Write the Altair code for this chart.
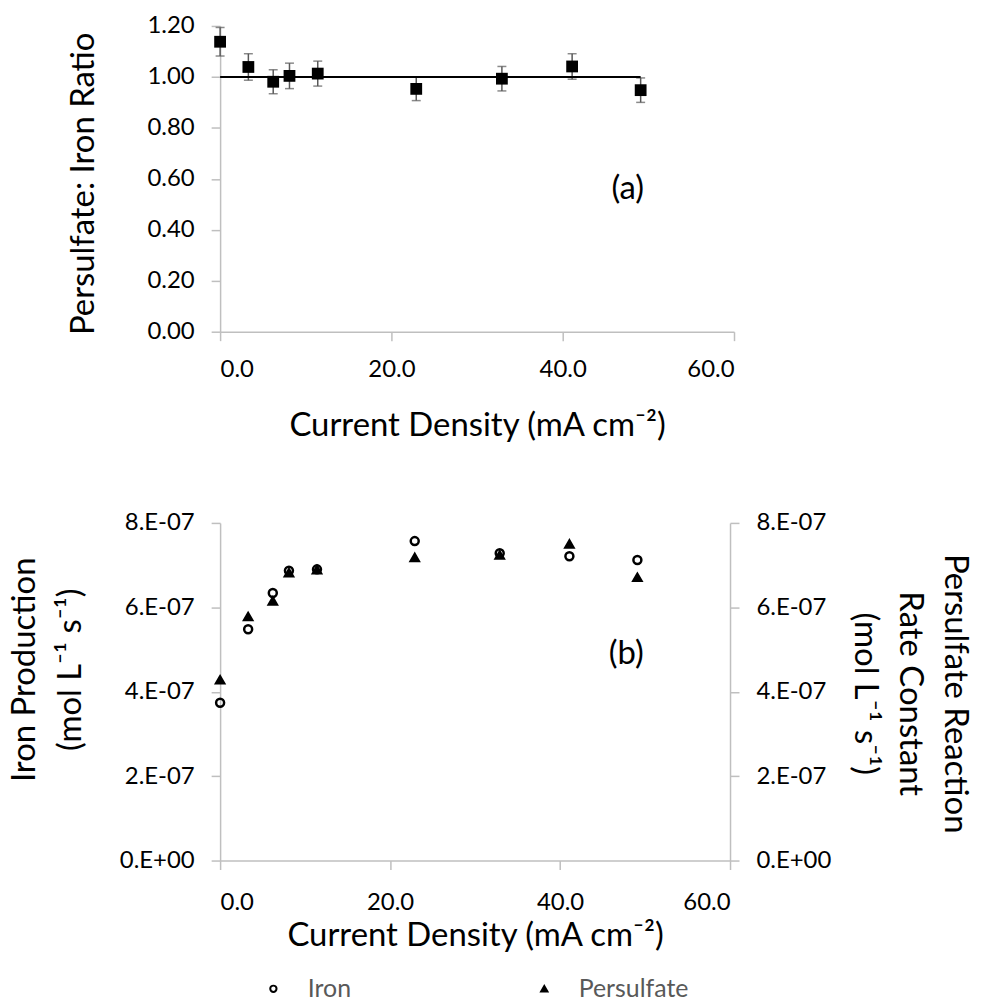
import altair as alt
import pandas as pd

# ---------------- data ----------------
density = [0.0, 3.3, 6.2, 8.1, 11.4, 22.9, 32.9, 41.1, 49.1]
ratio = [1.138, 1.039, 0.981, 1.004, 1.013, 0.953, 0.993, 1.041, 0.948]
ratio_err = [0.056, 0.052, 0.047, 0.050, 0.049, 0.046, 0.048, 0.050, 0.048]
fit_x = [0.0, 49.1]
fit_y = [1.0, 1.0]
iron = [3.74e-7, 5.48e-7, 6.34e-7, 6.87e-7, 6.90e-7, 7.57e-7, 7.28e-7, 7.21e-7, 7.12e-7]
persulfate = [4.28e-7, 5.78e-7, 6.15e-7, 6.82e-7, 6.89e-7, 7.18e-7, 7.24e-7, 7.50e-7, 6.71e-7]
series_names = ["Iron", "Persulfate"]
x_ticks = [0, 20, 40, 60]
ratio_ticks = [0, 0.2, 0.4, 0.6, 0.8, 1.0, 1.2]
rate_ticks = [0, 2e-7, 4e-7, 6e-7, 8e-7]
panel_labels = ["(a)", "(b)"]
label_a_pos = [47.6, 0.56]
label_b_pos = [47.8, 4.9e-7]

FONT = "Lato"
AX = "#BFBFBF"
X_TITLE = "Current Density (mA cm\u207b\u00b2)"

top_df = pd.DataFrame({
    "density": density,
    "ratio": ratio,
    "lo": [r - e for r, e in zip(ratio, ratio_err)],
    "hi": [r + e for r, e in zip(ratio, ratio_err)],
})
fit_df = pd.DataFrame({"density": fit_x, "ratio": fit_y})
lab_a = pd.DataFrame({"density": [label_a_pos[0]], "ratio": [label_a_pos[1]], "t": [panel_labels[0]]})

rows = []
for i, d in enumerate(density):
    rows.append({"density": d, "rate": iron[i], "series": series_names[0]})
    rows.append({"density": d, "rate": persulfate[i], "series": series_names[1]})
bot_df = pd.DataFrame(rows)
pers_df = pd.DataFrame({"density": density, "rate": persulfate})
lab_b = pd.DataFrame({"density": [label_b_pos[0]], "rate": [label_b_pos[1]], "t": [panel_labels[1]]})

common_axis = dict(
    domainColor=AX, tickColor=AX, tickSize=9, domainWidth=1.5, tickWidth=1.5,
    grid=False, labelFont=FONT, labelFontSize=24, labelColor="black",
    titleFont=FONT, titleFontSize=33, titleColor="black", titleFontWeight="normal",
)

xs = alt.Scale(domain=[0, 60], nice=False, zero=False)
ys_top = alt.Scale(domain=[0, 1.2], nice=False)
ys_bot = alt.Scale(domain=[0, 8e-7], nice=False)

# ---------------- top panel ----------------
ax_x_top = alt.Axis(values=x_ticks, format=".1f", title=X_TITLE, labelPadding=17,
                    titleY=94, titleBaseline="middle", **common_axis)
ax_y_top = alt.Axis(values=ratio_ticks, format=".2f", title="Persulfate: Iron Ratio",
                    labelPadding=17, titleX=-137, titleY=158, titleAngle=-90,
                    titleAlign="center", titleBaseline="middle", **common_axis)
x_top = alt.X("density:Q", scale=xs, axis=ax_x_top)
y_top = alt.Y("ratio:Q", scale=ys_top, axis=ax_y_top)

err = alt.Chart(top_df).mark_errorbar(
    ticks=alt.MarkConfig(size=9, color="#595959"),
    rule=alt.MarkConfig(color="#595959"),
    thickness=1.5,
    color="#595959",
).encode(x=x_top, y=alt.Y("lo:Q", scale=ys_top, axis=ax_y_top), y2="hi:Q")

fit = alt.Chart(fit_df).mark_line(color="black", strokeWidth=2).encode(x=x_top, y=y_top)
sq = alt.Chart(top_df).mark_point(shape="square", filled=True, size=140, color="black", opacity=1).encode(x=x_top, y=y_top)
ta = alt.Chart(lab_a).mark_text(font=FONT, fontSize=33, color="black").encode(x=x_top, y=y_top, text="t:N")

top = alt.layer(err, fit, sq, ta).properties(width=516, height=307)

# ---------------- bottom panel ----------------
ax_x_bot = alt.Axis(values=x_ticks, format=".1f", title=X_TITLE, labelPadding=21,
                    titleY=75, titleBaseline="middle", **common_axis)
x_bot = alt.X("density:Q", scale=xs, axis=ax_x_bot)
exp_label = "datum.value == 0 ? '0.E+00' : format(datum.value * 1e7, '.0f') + '.E-07'"
ax_y_left = alt.Axis(values=rate_ticks, labelExpr=exp_label,
                     title=["Iron Production", "(mol L\u207b\u00b9 s\u207b\u00b9)"],
                     labelPadding=17, titleX=-196, titleY=147, titleAngle=-90,
                     titleAlign="center", titleBaseline="middle", titleLineHeight=46,
                     **common_axis)
y_left = alt.Y("rate:Q", scale=ys_bot, axis=ax_y_left)
y_right = alt.Y(
    "rate:Q", scale=ys_bot,
    axis=alt.Axis(values=rate_ticks, labelExpr=exp_label, orient="right",
                  title=["Persulfate Reaction", "Rate Constant", "(mol L\u207b\u00b9 s\u207b\u00b9)"],
                  labelPadding=17, titleX=225, titleY=171, titleAngle=90,
                  titleAlign="center", titleBaseline="middle", titleLineHeight=45,
                  **common_axis),
)

leg = alt.Legend(orient="none", legendX=41, legendY=954, direction="horizontal",
                 title=None, labelFont=FONT, labelFontSize=25, labelColor="#595959",
                 symbolSize=40, symbolStrokeWidth=2, columnPadding=181, labelOffset=22)
pts = alt.Chart(bot_df).mark_point(filled=True, strokeWidth=2.5, size=64, opacity=1).encode(
    x=x_bot,
    y=y_left,
    shape=alt.Shape("series:N", scale=alt.Scale(domain=series_names, range=["circle", "triangle-up"]), legend=leg),
    fill=alt.Fill("series:N", scale=alt.Scale(domain=series_names, range=["transparent", "black"]), legend=leg),
    stroke=alt.Stroke("series:N", scale=alt.Scale(domain=series_names, range=["black", "black"]), legend=leg),
)
tb = alt.Chart(lab_b).mark_text(font=FONT, fontSize=33, color="black").encode(x=x_bot, y=y_left, text="t:N")
right = alt.Chart(pers_df).mark_point(opacity=0).encode(x=x_bot, y=y_right)

bottom = alt.layer(alt.layer(pts, tb), right).resolve_scale(y="independent").properties(width=512, height=339)

chart = alt.vconcat(top, bottom, spacing=192, bounds="flush").properties(
    padding={"left": 8, "top": 12, "right": 12, "bottom": 5}
).configure_view(stroke=None)

chart.save("out.html", embed_options={"renderer": "svg", "actions": False})
